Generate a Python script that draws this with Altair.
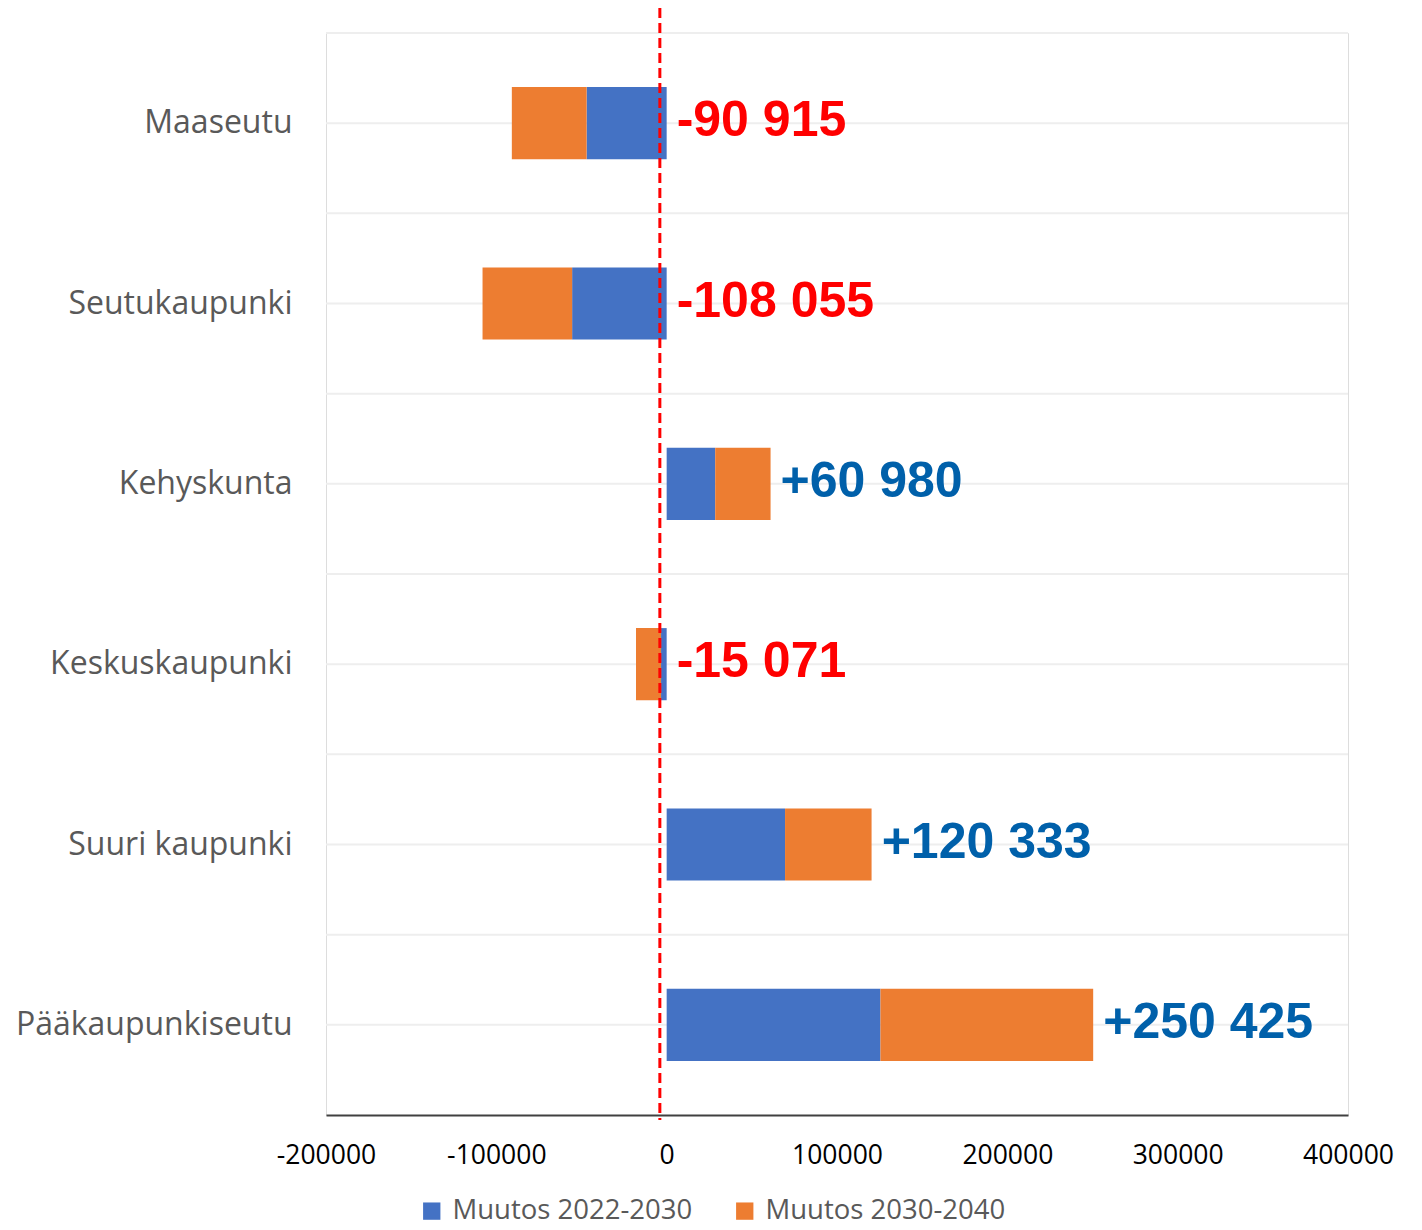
import altair as alt
import pandas as pd

categories = ["Maaseutu", "Seutukaupunki", "Kehyskunta", "Keskuskaupunki",
              "Suuri kaupunki", "Pääkaupunkiseutu"]
series_names = ["Muutos 2022-2030", "Muutos 2030-2040"]
muutos_2022_2030 = [-47000, -55500, 28500, -3300, 69500, 125500]
muutos_2030_2040 = [-43900, -52600, 32500, -14700, 50800, 124900]
totals = [-90915, -108055, 60980, -15071, 120333, 250425]
total_labels = ["-90 915", "-108 055", "+60 980", "-15 071", "+120 333", "+250 425"]
x_ticks = [-200000, -100000, 0, 100000, 200000, 300000, 400000]

W, H = 1022, 1082
STEP = H / len(categories)

rows = []
for i, c in enumerate(categories):
    rows.append({"cat": c, "series": series_names[0], "order": 0, "value": muutos_2022_2030[i]})
    rows.append({"cat": c, "series": series_names[1], "order": 1, "value": muutos_2030_2040[i]})
bars_df = pd.DataFrame(rows)
lab_df = pd.DataFrame({"cat": categories, "total": totals, "label": total_labels})
lab_df["pos"] = lab_df["total"].clip(lower=0)
lab_df["sign"] = ["neg" if t < 0 else "pos" for t in totals]
cat_df = pd.DataFrame({"cat": categories})

xscale = alt.Scale(domain=[-200000, 400000], nice=False, zero=False)
yscale = alt.Scale(domain=categories, paddingInner=0.6, paddingOuter=0.3)

bars = alt.Chart(bars_df).mark_bar().encode(
    y=alt.Y("cat:N", scale=yscale, sort=categories,
            axis=alt.Axis(title=None, domain=False, ticks=False, labelFontSize=32,
                          labelFont="Open Sans", labelColor="#595959", labelPadding=34,
                          labelLimit=0, grid=False)),
    x=alt.X("value:Q", scale=xscale, stack="zero",
            axis=alt.Axis(title=None, values=x_ticks, ticks=False,
                          labelExpr="'' + datum.value", labelFlush=False, labelOverlap=False,
                          labelFontSize=26.5, labelFont="Open Sans", labelColor="#000000",
                          labelPadding=27, domainColor="#404040", domainWidth=2,
                          gridColor="#d9d9d9", gridWidth=2)),
    color=alt.Color("series:N", scale=alt.Scale(domain=series_names, range=["#4472C4", "#ED7D31"]),
                    legend=alt.Legend(title=None, orient="none", legendX=92, legendY=1164,
                                      direction="horizontal", symbolType="square",
                                      symbolSize=300, labelFontSize=27.5, labelFont="Open Sans",
                                      labelColor="#595959", columnPadding=38, labelLimit=0,
                                      symbolStrokeWidth=0, labelOffset=7)),
    order=alt.Order("order:Q"),
)

center_lines = alt.Chart(cat_df).mark_rule(color="#eeeeee", strokeWidth=2).encode(
    y=alt.Y("cat:N", scale=yscale, sort=categories),
    x=alt.datum(-200000, scale=xscale),
    x2=alt.datum(400000),
)

boundary_lines = alt.Chart(cat_df).mark_rule(color="#eeeeee", strokeWidth=2,
                                            yOffset=-STEP / 2).encode(
    y=alt.Y("cat:N", scale=yscale, sort=categories),
    x=alt.datum(-200000, scale=xscale),
    x2=alt.datum(400000),
)

zero_line = alt.Chart(pd.DataFrame({"x": [-4000]})).mark_rule(
    color="#ff0000", strokeWidth=3, strokeDash=[10, 5]).encode(
    x=alt.X("x:Q", scale=xscale),
    y=alt.value(-25),
    y2=alt.value(H + 5),
)

labels = alt.Chart(lab_df).mark_text(
    align="left", baseline="middle", dx=10, dy=-2, font="Liberation Sans",
    fontWeight="bold", fontSize=50).encode(
    y=alt.Y("cat:N", scale=yscale, sort=categories),
    x=alt.X("pos:Q", scale=xscale),
    text="label:N",
    color=alt.Color("sign:N", scale=alt.Scale(domain=["neg", "pos"], range=["#ff0000", "#0060AA"]),
                    legend=None),
)

chart = alt.layer(boundary_lines, center_lines, bars, zero_line, labels).resolve_scale(
    color="independent").properties(
    width=W, height=H,
    autosize=alt.AutoSizeParams(type="none"),
    padding={"left": 318, "top": 25, "right": 50, "bottom": 115},
).configure_view(stroke=None).configure(background="white")

chart.save("out.html", embed_options={"renderer": "svg", "actions": False})
